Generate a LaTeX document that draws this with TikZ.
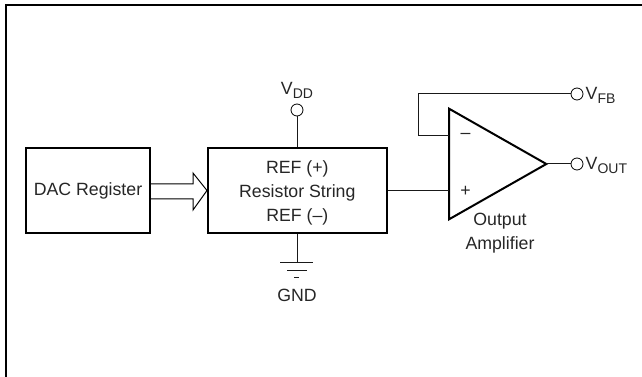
\documentclass[tikz,border=0pt]{standalone}
\usepackage{fontspec}
\setmainfont{Liberation Sans}
\usetikzlibrary{positioning,shapes.geometric}

\newcommand{\vname}[1]{V\raisebox{-0.45ex}{\fontsize{10.5}{12}\selectfont #1}}

\begin{document}
\begin{tikzpicture}[
    x=0.75pt,
    y=-0.75pt,
    node distance=42pt and 42pt,
    txt/.style={
        font=\fontsize{13.3}{17.6}\selectfont,
        text=black!85,
        align=center,
        inner sep=0pt
    },
    box/.style={
        txt,
        rectangle,
        draw=black,
        line width=1.5pt,
        fill=white,
        minimum height=63.5pt
    },
    amp/.style={
        isosceles triangle,
        isosceles triangle stretches,
        draw=black,
        line width=1.5pt,
        fill=white,
        inner sep=0pt,
        outer sep=0pt,
        minimum width=83pt,
        minimum height=73pt
    },
    pin/.style={
        circle,
        draw=black,
        fill=white,
        line width=0.6pt,
        inner sep=0pt,
        minimum size=9pt
    },
    wire/.style={line width=0.75pt, black!90},
    bus/.style={line width=0.75pt, black}
]
\useasboundingbox (0,0) rectangle (642,377);

% frame, only two sides show
\draw[line width=1.5pt] (6,377) -- (6,5) -- (642,5);

% blocks
\node[box, minimum width=93pt] at (88,190.5) (dac) {DAC Register};
\node[box, minimum width=134pt, right=of dac] (string) {};
\node[txt, yshift=-2pt] at (string) (stringlabel) {REF (+)\\[0.4pt]Resistor String\\[0.4pt]REF (--)};
\node[amp, anchor=lower side] at (449,164) (outamp) {};
\node[txt] at (500,233) (amplabel) {Output\\[0.4pt]Amplifier};

% pins
\node[pin] at (297,110) (vddpin) {};
\node[pin] at (577,94) (vfbpin) {};
\node[pin] at (577,164) (voutpin) {};
\node[txt, above=3.5pt of vddpin] (vddlabel) {\vname{DD}};
\node[txt, right=1.5pt of vfbpin, yshift=-1pt] (vfblabel) {\vname{FB}};
\node[txt, right=1.5pt of voutpin, yshift=-1pt] (voutlabel) {\vname{OUT}};

% amplifier inputs
\node[txt] at (465.5,136) (minus) {--};
\node[txt] at (465.5,191) (plus) {+};

% ground
\coordinate (gndtop) at (297,263);
\coordinate (fbturn) at (418,94);
\coordinate (fbin) at (449,136);
\node[txt] at (297,295) (gnd) {GND};

% wires
\draw[wire] (vddpin) -- (vddpin |- string.north);
\draw[wire] (gndtop |- string.south) -- (gndtop);
\draw[wire] (string.east) -- (outamp.lower side |- string.east);
\draw[wire] (outamp.apex) -- (voutpin);
\draw[wire] (vfbpin) -- (fbturn) |- (fbin);

% ground bars
\draw[wire] (280,263) -- (313,263);
\draw[wire] (287,271) -- (307,271);
\draw[wire] (294,278) -- (299,278);

% hollow bus arrow
\draw[bus] (dac.east |- 0,184) -- (193,184) -- (193,173) -- (string.west) -- (193,210) -- (193,199) -- (dac.east |- 0,199);
\end{tikzpicture}
\end{document}
